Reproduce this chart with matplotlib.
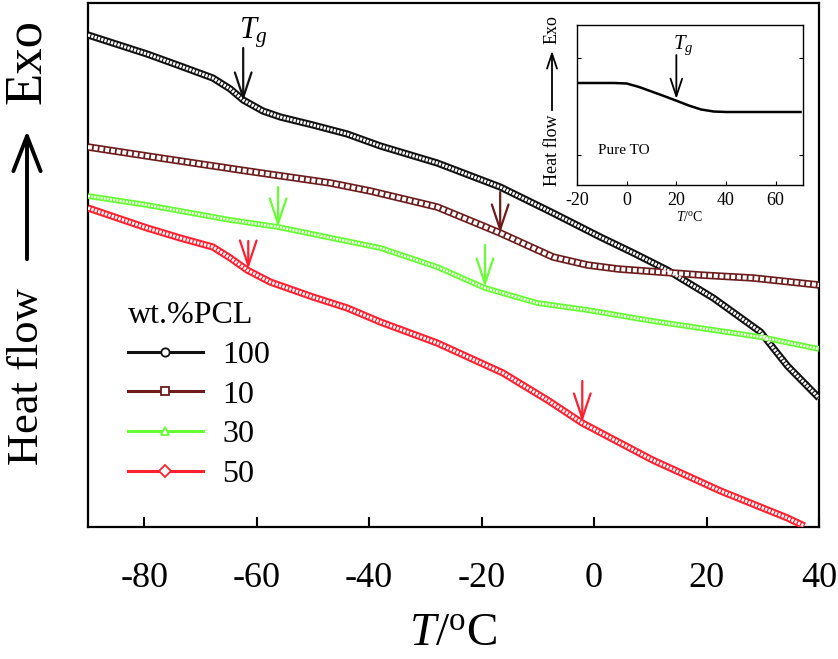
import matplotlib
matplotlib.use("Agg")
import matplotlib.pyplot as plt
from matplotlib.lines import Line2D
from matplotlib.patches import FancyArrowPatch

plt.rcParams['font.family'] = ['Liberation Serif', 'DejaVu Serif']
plt.rcParams['mathtext.fontset'] = 'custom'
plt.rcParams['mathtext.rm'] = 'Liberation Serif'
plt.rcParams['mathtext.it'] = 'Liberation Serif:italic'

# ---------------- data ----------------
T100 = [-90, -79.5, -73.6, -67.8, -64.7, -62.4, -58.9, -55.8, -50.0, -43.9, -38.0, -27.9, -16.7, -7.3, 1.1, 7.0, 13.0, 21.2, 29.6, 34.4, 40]
H100 = [49.2, 47.3, 46.1, 44.9, 43.8, 42.7, 41.6, 41.0, 40.2, 39.3, 38.1, 36.4, 34.0, 31.4, 29.0, 27.4, 25.7, 22.9, 19.5, 16.1, 12.9]

T10 = [-90, -79.5, -73.6, -61.7, -46.9, -39.8, -27.9, -16.7, -7.3, -1.2, 4.3, 18.9, 28.3, 40]
H10 = [38.0, 37.1, 36.6, 35.6, 34.4, 33.6, 32.0, 29.4, 27.0, 26.2, 25.8, 25.2, 24.9, 24.2]

T30 = [-90, -79.5, -64.7, -56.2, -38.0, -27.9, -19.4, -10.1, -1.2, 10.4, 29.6, 40]
H30 = [33.1, 32.2, 30.7, 30.0, 27.9, 26.0, 23.9, 22.4, 21.7, 20.6, 19.0, 17.8]

T50 = [-90, -79.5, -73.6, -67.8, -64.7, -61.7, -57.6, -50.0, -43.9, -38.0, -27.9, -16.2, -8.3, -2.1, 10.4, 22.5, 34.4, 37.4]
H50 = [31.9, 29.9, 28.9, 28.0, 26.9, 25.7, 24.5, 23.0, 21.9, 20.5, 18.4, 15.4, 12.7, 10.4, 6.7, 3.6, 0.9, 0.1]

labels = ['100', '10', '30', '50']
colors = ['#111111', '#6E1B1B', '#66FF33', '#FF2030']
markers = ['o', 's', '^', 'D']

# Tg arrows (x, y_start, y_end, series index)
tg_arrows = [(-62.4, 47.9, 42.6, 0), (-16.7, 33.5, 29.4, 1), (-56.2, 34.0, 30.0, 2),
             (-19.4, 28.2, 24.0, 2), (-61.5, 28.6, 25.8, 3), (-2.1, 14.6, 10.5, 3)]

# inset: pure TO
Tin = [-20, -5, 0, 5, 10, 15, 20, 25, 30, 35, 40, 50, 70]
Hin = [102, 102, 101.5, 98, 93.5, 89, 84.3, 79.5, 75.5, 73.5, 73, 73, 73]

xticks_main = [-80, -60, -40, -20, 0, 20, 40]
xticks_in = [-20, 0, 20, 40, 60]

# ---------------- figure ----------------
W, H = 838, 659
fig = plt.figure(figsize=(W / 100, H / 100), dpi=100)
ax = fig.add_axes([88 / W, 1 - 527 / H, (819 - 88) / W, (527 - 3) / H])
ax.set_xlim(-90, 40)
ax.set_ylim(0, 52.4)

# chain-like rendering imitating dense hollow markers
styles = [(5.2, 2.3, (0.72, 0.36)), (5.4, 3.0, (0.97, 0.42)),
          (4.2, 1.7, (0.85, 0.5)), (5.2, 2.3, (0.72, 0.4))]
series = [(T100, H100), (T10, H10), (T30, H30), (T50, H50)]
for (t, h), c, (lo, li, d) in zip(series, colors, styles):
    ax.plot(t, h, color=c, lw=lo, solid_capstyle='butt', solid_joinstyle='round', zorder=3)
    ax.plot(t, h, color='white', lw=li, dashes=d, dash_capstyle='butt', zorder=3.1)

for x, y0, y1, ci in tg_arrows:
    ax.annotate('', xy=(x, y1), xytext=(x, y0),
                arrowprops=dict(arrowstyle='->,head_length=0.9,head_width=0.3', color=colors[ci],
                                lw=1.6, mutation_scale=20, shrinkA=0, shrinkB=0), zorder=5)
ax.text(-63.2, 49.4, '$T_g$', fontsize=22, ha='left', va='center')

ax.set_xticks(xticks_main)
ax.set_xticklabels([str(v) for v in xticks_main])
ax.set_yticks([])
ax.tick_params(axis='x', direction='in', length=7, width=1.5, labelsize=26, pad=25)
for s in ax.spines.values():
    s.set_linewidth(1.6)
ax.set_xlabel('$T/^{\\mathrm{o}}\\mathrm{C}$', fontsize=34, labelpad=13)

handles = [Line2D([], [], color=c, lw=2.2, marker=m, markersize=6, markerfacecolor='white',
                  markeredgecolor=c, markeredgewidth=1.3) for c, m in zip(colors, markers)]
leg = ax.legend(handles, labels, title='wt.%PCL', loc='upper left', bbox_to_anchor=(0.037, 0.455),
                frameon=False, fontsize=23, title_fontsize=23, handlelength=2.35, handletextpad=0.6,
                labelspacing=0.32, alignment='left', borderaxespad=0)

# y-label pieces
fig.text(27 / W, 1 - 377 / H, 'Heat flow', rotation=90, fontsize=32, ha='center', va='center')
fig.text(27 / W, 1 - 62 / H, 'Exo', rotation=90, fontsize=38, ha='center', va='center')
fig.add_artist(FancyArrowPatch((27 / W, 1 - 262 / H), (27 / W, 1 - 128 / H),
               transform=fig.transFigure, arrowstyle='->,head_length=0.9,head_width=0.35',
               mutation_scale=28, lw=2.8, color='black'))

# ---------------- inset ----------------
axi = fig.add_axes([577 / W, 1 - 185 / H, (803 - 577) / W, (185 - 25) / H])
axi.set_xlim(-20, 71)
axi.set_ylim(0, 160)
axi.plot(Tin, Hin, color='black', lw=1.8)
axi.annotate('', xy=(20, 86), xytext=(20, 130),
             arrowprops=dict(arrowstyle='->,head_length=0.9,head_width=0.3', color='black',
                             lw=1.3, mutation_scale=14, shrinkA=0, shrinkB=0))
axi.text(18.6, 140, '$T_g$', fontsize=15, ha='left', va='center')
axi.text(-11.5, 35, 'Pure TO', fontsize=11, ha='left', va='center')
axi.set_xticks(xticks_in)
axi.set_xticklabels([str(v) for v in xticks_in])
axi.set_yticks([30, 127])
axi.set_yticklabels([])
axi.tick_params(axis='both', direction='in', length=3, width=0.8, labelsize=13, pad=5, right=True)
for s in axi.spines.values():
    s.set_linewidth(1.0)
axi.set_xlabel('$T/^{\\mathrm{o}}\\mathrm{C}$', fontsize=10, labelpad=1)
fig.text(552 / W, 1 - 150 / H, 'Heat flow', rotation=90, fontsize=13, ha='center', va='center')
fig.text(552 / W, 1 - 30 / H, 'Exo', rotation=90, fontsize=13, ha='center', va='center')
fig.add_artist(FancyArrowPatch((552 / W, 1 - 113 / H), (552 / W, 1 - 48 / H),
               transform=fig.transFigure, arrowstyle='->,head_length=0.9,head_width=0.3',
               mutation_scale=12, lw=1.3, color='black'))

fig.savefig('out.png', dpi=100)
